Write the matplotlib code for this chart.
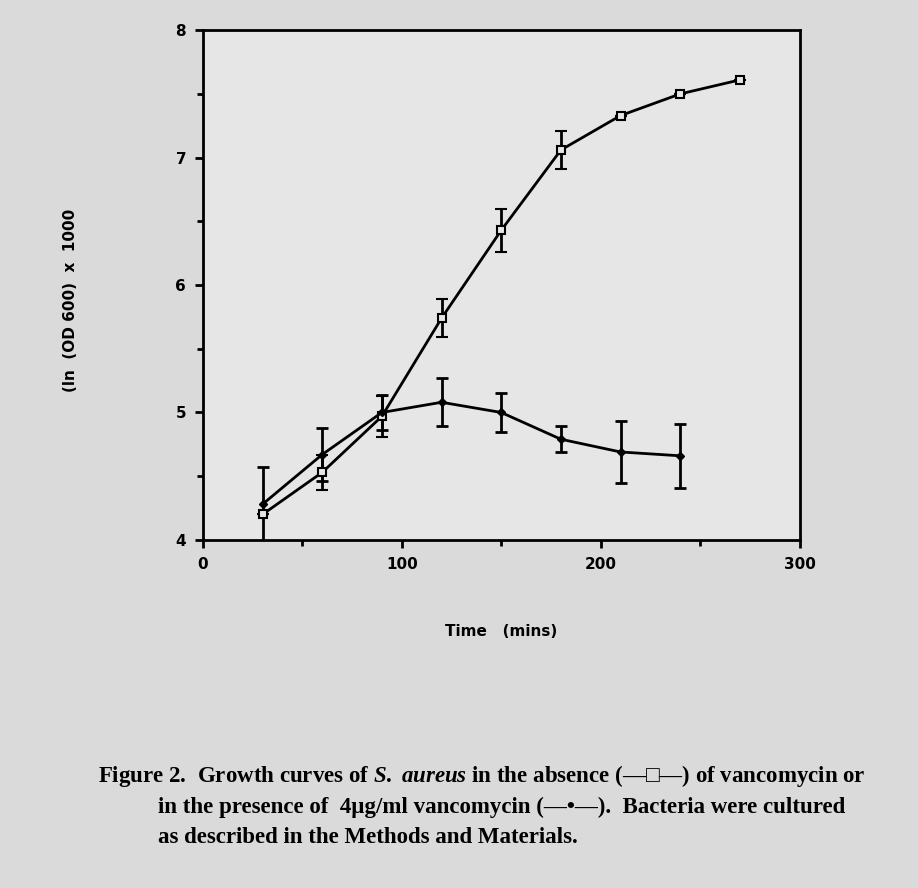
import numpy as np
import matplotlib
matplotlib.use("Agg")
import matplotlib.pyplot as plt

plt.rcParams["mathtext.fontset"] = "custom"
plt.rcParams["mathtext.it"] = "Liberation Serif:italic:bold"
plt.rcParams["mathtext.rm"] = "Liberation Serif:bold"

# growth without vancomycin (open squares)
t_ctrl = [30, 60, 90, 120, 150, 180, 210, 240, 270]
y_ctrl = [4.20, 4.53, 4.97, 5.74, 6.43, 7.06, 7.33, 7.50, 7.61]
e_ctrl = [0.0, 0.14, 0.16, 0.15, 0.17, 0.15, 0.0, 0.0, 0.0]

# growth with 4 ug/ml vancomycin (filled diamonds)
t_vanc = [30, 60, 90, 120, 150, 180, 210, 240]
y_vanc = [4.28, 4.67, 5.00, 5.08, 5.00, 4.79, 4.69, 4.66]
e_vanc = [0.29, 0.21, 0.14, 0.19, 0.15, 0.10, 0.24, 0.25]

x_ticks = [0, 100, 200, 300]
y_ticks = [4, 5, 6, 7, 8]

bg = "#dadada"
fig = plt.figure(figsize=(9.18, 8.88), dpi=100, facecolor=bg)
ax = fig.add_axes([0.221, 0.392, 0.650, 0.574], facecolor="#e6e6e6")

ax.errorbar(t_ctrl, y_ctrl, yerr=e_ctrl, color="black", lw=2, marker="s",
            ms=6, mfc="#e6e6e6", mec="black", mew=1.5, capsize=4, elinewidth=2,
            capthick=2)
ax.errorbar(t_vanc, y_vanc, yerr=e_vanc, color="black", lw=2, marker="D",
            ms=4, mfc="black", mec="black", capsize=4, elinewidth=2, capthick=2)

ax.set_xlim(0, 300)
ax.set_ylim(4, 8)
ax.set_xticks(x_ticks)
ax.set_yticks(y_ticks)
ax.set_xticks([50, 150, 250], minor=True)
ax.set_yticks([4.5, 5.5, 6.5, 7.5], minor=True)
ax.tick_params(which="both", direction="out", width=2, color="black")
ax.tick_params(which="major", length=6, pad=6)
ax.tick_params(which="minor", length=4)
for lab in ax.get_xticklabels() + ax.get_yticklabels():
    lab.set_fontweight("bold")
    lab.set_fontsize(11)
for s in ax.spines.values():
    s.set_linewidth(2)

ax.set_xlabel("Time   (mins)", fontsize=11, fontweight="bold")
ax.xaxis.set_label_coords(0.5, -0.165)
ax.set_ylabel("(ln  (OD 600)  x  1000", fontsize=11, fontweight="bold")
ax.yaxis.set_label_coords(-0.21, 0.47)

cap_font = dict(family="Liberation Serif", fontsize=16.5, fontweight="bold")
fig.text(0.107, 0.119,
         "Figure 2.  Growth curves of $\\it{S.\\ aureus}$ in the absence (\u2014\u25a1\u2014) of vancomycin or",
         **cap_font)
fig.text(0.172, 0.085,
         "in the presence of  4\u00b5g/ml vancomycin (\u2014\u2022\u2014).  Bacteria were cultured",
         **cap_font)
fig.text(0.172, 0.051, "as described in the Methods and Materials.", **cap_font)

fig.savefig("out.png", dpi=100, facecolor=bg)
